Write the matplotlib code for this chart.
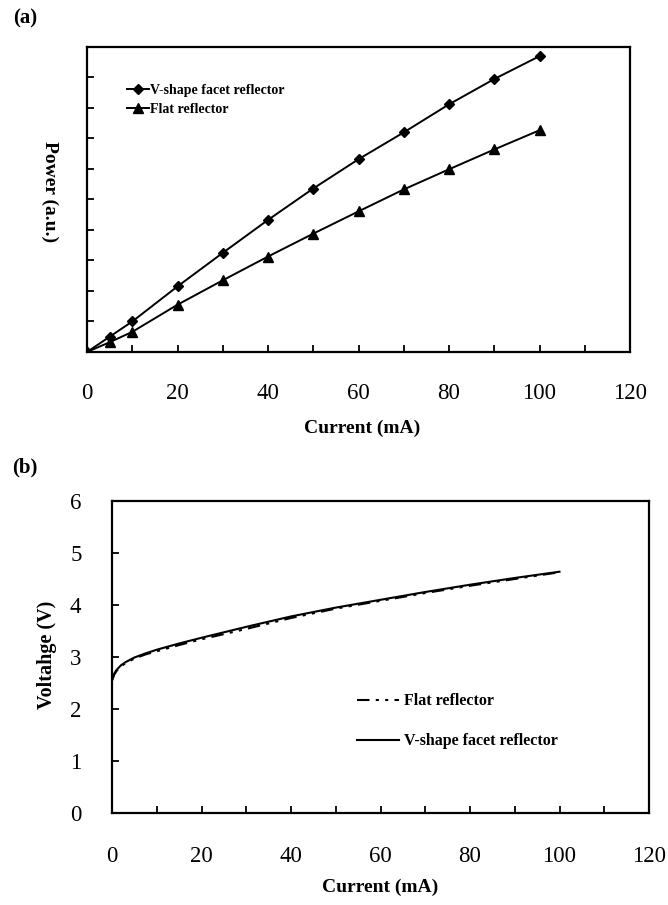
import matplotlib
matplotlib.use("Agg")
import matplotlib.pyplot as plt
from matplotlib.ticker import MultipleLocator, FixedLocator, NullFormatter

# ---------------- data ----------------
# panel (a)
current_a = [0, 5, 10, 20, 30, 40, 50, 60, 70, 80, 90, 100]
power_vshape = [0, 0.50, 1.00, 2.15, 3.25, 4.33, 5.36, 6.32, 7.20, 8.12, 8.95, 9.70]
power_flat = [0, 0.32, 0.66, 1.55, 2.35, 3.13, 3.88, 4.61, 5.33, 5.99, 6.64, 7.27]

# panel (b)
current_b = [0, 0.5, 1, 2, 3, 5, 7.5, 10, 15, 20, 30, 40, 50, 60, 70, 80, 90, 100]
volt_vshape = [2.55, 2.68, 2.75, 2.84, 2.90, 2.99, 3.07, 3.14, 3.26, 3.37, 3.58, 3.78, 3.95, 4.10, 4.25, 4.39, 4.52, 4.64]
volt_flat = [2.55, 2.66, 2.73, 2.82, 2.88, 2.97, 3.05, 3.11, 3.23, 3.34, 3.54, 3.75, 3.93, 4.08, 4.23, 4.37, 4.50, 4.63]

xticks_lab = [0, 20, 40, 60, 80, 100, 120]
yticks_b = [0, 1, 2, 3, 4, 5, 6]

plt.rcParams['font.family'] = ['Liberation Serif', 'DejaVu Serif']

W, H = 668, 905
fig = plt.figure(figsize=(W / 100, H / 100), dpi=100)

def frac_box(l, t, r, b):
    return [l / W, 1 - b / H, (r - l) / W, (b - t) / H]

# ---------- panel (a) ----------
ax1 = fig.add_axes(frac_box(87, 47, 630, 352))
ax1.plot(current_a, power_vshape, color='black', lw=1.4, marker='D', ms=5.5,
         label='V-shape facet reflector')
ax1.plot(current_a, power_flat, color='black', lw=1.4, marker='^', ms=7,
         label='Flat reflector')
ax1.set_xlim(0, 120)
ax1.set_ylim(0, 10)
ax1.xaxis.set_major_locator(FixedLocator(xticks_lab))
ax1.xaxis.set_minor_locator(MultipleLocator(10))
ax1.yaxis.set_major_locator(MultipleLocator(1))
ax1.yaxis.set_major_formatter(NullFormatter())
ax1.tick_params(axis='both', which='both', direction='in', length=5, width=1.3,
                top=False, right=False)
ax1.tick_params(axis='x', which='major', pad=22, labelsize=16.5)
for s in ax1.spines.values():
    s.set_linewidth(1.6)
leg1 = ax1.legend(loc='upper left', bbox_to_anchor=(0.05, 0.92), frameon=False,
                  handlelength=1.6, handletextpad=0.1, labelspacing=0.45,
                  prop={'weight': 'bold', 'size': 10})
fig.text(25 / W, 1 - 18 / H, '(a)', fontsize=15, fontweight='bold', ha='center', va='center')
fig.text(50 / W, 1 - 192 / H, 'Power (a.u.)', fontsize=14, fontweight='bold',
         rotation=270, ha='center', va='center')
fig.text(362 / W, 1 - 428 / H, 'Current (mA)', fontsize=14, fontweight='bold',
         ha='center', va='center')

# ---------- panel (b) ----------
ax2 = fig.add_axes(frac_box(112, 501, 649, 813))
ax2.plot(current_b, volt_flat, color='black', lw=1.5,
         dashes=(6, 3, 1.5, 3, 1.5, 3), label='Flat reflector')
ax2.plot(current_b, volt_vshape, color='black', lw=1.5,
         label='V-shape facet reflector')
ax2.set_xlim(0, 120)
ax2.set_ylim(0, 6)
ax2.xaxis.set_major_locator(FixedLocator(xticks_lab))
ax2.xaxis.set_minor_locator(MultipleLocator(10))
ax2.yaxis.set_major_locator(FixedLocator(yticks_b))
ax2.tick_params(axis='both', which='both', direction='in', length=5, width=1.3,
                top=False, right=False, labelsize=16.5)
ax2.tick_params(axis='x', which='major', pad=24)
ax2.tick_params(axis='y', which='major', pad=22)
for s in ax2.spines.values():
    s.set_linewidth(1.6)
leg2 = ax2.legend(loc='upper left', bbox_to_anchor=(0.43, 0.43), frameon=False,
                  handlelength=2.6, handletextpad=0.3, labelspacing=1.5,
                  prop={'weight': 'bold', 'size': 11.5})
fig.text(25 / W, 1 - 467 / H, '(b)', fontsize=15, fontweight='bold', ha='center', va='center')
fig.text(47 / W, 1 - 655 / H, 'Voltahge (V)', fontsize=14.5, fontweight='bold',
         rotation=90, ha='center', va='center')
fig.text(380 / W, 1 - 887 / H, 'Current (mA)', fontsize=14, fontweight='bold',
         ha='center', va='center')

fig.savefig('out.png', dpi=100)
